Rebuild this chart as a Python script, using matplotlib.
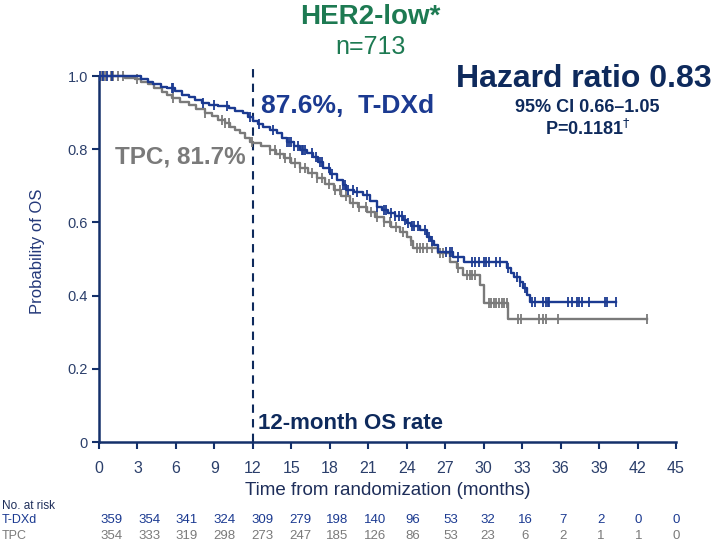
import matplotlib
matplotlib.use('Agg')
import matplotlib.pyplot as plt
import numpy as np

plt.rcParams.update({
    'font.family': ['Liberation Sans', 'DejaVu Sans'],
    'figure.facecolor': 'white',
    'axes.facecolor': 'white',
})

NAVY = '#0E2A5C'
BLUE = '#1B3A91'
GRAY = '#7A7A7A'
GREEN = '#1D7A52'
AXC = '#14306A'

# ── Data ─────────────────────────────────────────────────────────────────────
tdxd_t = [0, 3.3, 3.8, 4.2, 4.8, 5.3, 5.9, 6.5, 7.0, 7.5, 8.0, 8.6, 9.3, 10.1,
          10.6, 11.2, 11.6, 12.0, 12.4, 12.8, 13.3, 13.9, 14.3, 14.7, 15.2,
          15.7, 16.2, 16.7, 17.1, 17.5, 18.0, 18.6, 19.0, 19.3, 19.9, 20.6,
          21.1, 21.7, 22.1, 22.5, 23.1, 23.7, 24.0, 24.3, 25.0, 25.6, 25.9,
          26.1, 26.4, 27.6, 28.5, 31.8, 32.1, 32.4, 32.8, 33.1, 33.4, 33.6, 40.3]
tdxd_s = [1.0, 0.993, 0.985, 0.977, 0.971, 0.966, 0.958, 0.948, 0.942, 0.935,
          0.927, 0.922, 0.917, 0.912, 0.905, 0.898, 0.888, 0.876, 0.868, 0.861,
          0.853, 0.844, 0.832, 0.820, 0.808, 0.798, 0.789, 0.779, 0.764, 0.749,
          0.733, 0.716, 0.702, 0.689, 0.682, 0.675, 0.659, 0.642, 0.634, 0.626,
          0.617, 0.607, 0.598, 0.590, 0.579, 0.560, 0.548, 0.538, 0.519, 0.505,
          0.492, 0.475, 0.463, 0.451, 0.436, 0.421, 0.402, 0.383, 0.383]
tdxd_cens = [0.1, 0.3, 0.6, 1.0, 5.7, 5.8, 8.1, 9.0, 10.0, 11.8, 12.5, 13.6,
             14.7, 14.8, 15.0, 15.2, 15.5, 15.8, 15.9, 16.1, 16.6, 16.9, 17.2,
             17.4, 17.9, 18.2, 19.0, 19.2, 19.4, 19.8, 20.1, 20.9, 21.7, 22.2,
             22.4, 22.8, 23.1, 23.4, 23.6, 23.9, 24.1, 24.4, 24.6, 24.9, 25.4,
             25.7, 26.0, 27.1, 27.4, 27.5, 28.0, 29.1, 29.3, 29.6, 30.0, 30.2,
             30.4, 31.0, 31.3, 31.9, 32.6, 32.8, 33.2, 33.8, 34.0, 34.6, 34.9,
             35.0, 35.1, 36.6, 36.9, 37.3, 37.4, 37.7, 38.2, 39.5, 39.6, 40.3]

tpc_t = [0, 2.0, 2.8, 3.3, 3.8, 4.3, 4.9, 5.3, 5.7, 6.3, 7.0, 7.6, 8.3, 8.8,
         9.3, 9.8, 10.2, 10.6, 11.0, 11.4, 11.8, 12.0, 12.6, 13.3, 13.8, 14.4,
         15.0, 15.7, 16.3, 17.0, 17.6, 18.3, 18.9, 19.6, 20.2, 20.9, 21.5,
         22.2, 22.8, 23.5, 24.0, 24.3, 24.5, 26.4, 27.4, 27.9, 28.4, 29.7,
         30.0, 31.9, 42.7]
tpc_s = [1.0, 0.996, 0.991, 0.984, 0.977, 0.968, 0.957, 0.948, 0.940, 0.930,
         0.920, 0.910, 0.899, 0.890, 0.881, 0.872, 0.862, 0.853, 0.843, 0.832,
         0.820, 0.817, 0.808, 0.798, 0.787, 0.776, 0.763, 0.749, 0.735, 0.721,
         0.705, 0.689, 0.671, 0.653, 0.641, 0.628, 0.615, 0.601, 0.588, 0.574,
         0.560, 0.548, 0.530, 0.516, 0.492, 0.475, 0.456, 0.429, 0.380, 0.336,
         0.336]
tpc_cens = [0.2, 0.5, 0.9, 1.1, 1.5, 1.9, 3.0, 5.8, 8.3, 9.6, 9.8, 10.1, 11.9,
            13.3, 13.7, 14.1, 14.5, 14.9, 15.3, 15.7, 16.1, 16.6, 17.0, 17.4,
            17.9, 18.4, 18.8, 19.3, 19.8, 20.3, 20.8, 21.2, 21.7, 22.2, 22.7,
            23.2, 23.7, 24.3, 24.8, 25.0, 25.3, 25.6, 26.0, 26.6, 26.8, 28.0,
            28.7, 28.9, 29.1, 29.3, 30.4, 30.6, 30.8, 31.0, 31.2, 31.4, 31.6,
            31.8, 32.7, 32.9, 34.3, 34.6, 34.9, 35.8, 42.7]

months = [0, 3, 6, 9, 12, 15, 18, 21, 24, 27, 30, 33, 36, 39, 42, 45]
risk_tdxd = [359, 354, 341, 324, 309, 279, 198, 140, 96, 53, 32, 16, 7, 2, 0, 0]
risk_tpc = [354, 333, 319, 298, 273, 247, 185, 126, 86, 53, 23, 6, 2, 1, 1, 0]
yticks = [0, 0.2, 0.4, 0.6, 0.8, 1.0]
ytick_labels = ['0', '0.2', '0.4', '0.6', '0.8', '1.0']


def surv_at(times, surv, x):
    idx = np.searchsorted(times, x, side='right') - 1
    return np.asarray(surv)[idx]


# ── Figure ───────────────────────────────────────────────────────────────────
fig = plt.figure(figsize=(7.15, 5.45), dpi=100)
ax = fig.add_axes([99 / 715, 103 / 545, 577 / 715, 380.6 / 545])
ax.set_xlim(0, 45)
ax.set_ylim(0, 1.04)

ax.step(tpc_t, tpc_s, where='post', color=GRAY, lw=1.7, zorder=3)
ax.step(tdxd_t, tdxd_s, where='post', color=BLUE, lw=1.7, zorder=4)
ax.plot(tpc_cens, surv_at(tpc_t, tpc_s, tpc_cens), ls='none', marker='|',
        ms=7.5, mew=1.3, color=GRAY, zorder=3)
ax.plot(tdxd_cens, surv_at(tdxd_t, tdxd_s, tdxd_cens), ls='none', marker='|',
        ms=7.5, mew=1.3, color=BLUE, zorder=4)

ax.axvline(12, ymin=0, ymax=1.035 / 1.04, color=NAVY, lw=1.5,
           ls=(0, (4, 3)), zorder=2)

for side in ['top', 'right']:
    ax.spines[side].set_visible(False)
ax.spines['left'].set_bounds(0, 1)
ax.spines['bottom'].set_bounds(0, 45)
for side in ['left', 'bottom']:
    ax.spines[side].set_color(AXC)
    ax.spines[side].set_linewidth(1.8)

ax.set_xticks(months)
ax.set_xticklabels([str(m) for m in months])
ax.set_yticks(yticks)
ax.set_yticklabels(ytick_labels)
ax.tick_params(axis='both', colors=AXC, labelcolor='#2B3F6B', width=1.5,
               length=5)
ax.tick_params(axis='x', pad=9, labelsize=11.5)
ax.tick_params(axis='y', pad=3, labelsize=10.5)
ax.set_ylabel('Probability of OS', fontsize=12, color='#24397A', labelpad=16)
ax.set_xlabel('Time from randomization (months)', fontsize=13.5,
              color='#1E2E5A', labelpad=4)

# annotations
ax.text(12.6, 0.918, '87.6%,  T-DXd', fontsize=19, fontweight='bold',
        color=BLUE, ha='left', va='center')
ax.text(11.4, 0.779, 'TPC, 81.7%', fontsize=17.5, fontweight='bold',
        color=GRAY, ha='right', va='center')
ax.text(12.4, 0.05, '12-month OS rate', fontsize=16, fontweight='bold',
        color=NAVY, ha='left', va='center')

fig.text(370 / 715, 1 - 17 / 545, 'HER2-low*', fontsize=20, fontweight='bold',
         color=GREEN, ha='center', va='center')
fig.text(371 / 715, 1 - 47 / 545, 'n=713', fontsize=18, color=GREEN,
         ha='center', va='center')
fig.text(584 / 715, 1 - 79 / 545, 'Hazard ratio 0.83', fontsize=23,
         fontweight='bold', color=NAVY, ha='center', va='center')
fig.text(587 / 715, 1 - 108 / 545, '95% CI 0.66\u20131.05', fontsize=13,
         fontweight='bold', color=NAVY, ha='center', va='center')
fig.text(588 / 715, 1 - 129 / 545, 'P=0.1181$^{\u2020}$', fontsize=13,
         fontweight='bold', color=NAVY, ha='center', va='center')

# number at risk table
fig.text(2 / 715, 1 - 506 / 545, 'No. at risk', fontsize=8.5, color='#1E2E5A',
         ha='left', va='center')
fig.text(2 / 715, 1 - 520 / 545, 'T-DXd', fontsize=9, color=BLUE,
         ha='left', va='center')
fig.text(2 / 715, 1 - 536 / 545, 'TPC', fontsize=9, color=GRAY,
         ha='left', va='center')
trans = ax.get_xaxis_transform()
for m, a, b in zip(months, risk_tdxd, risk_tpc):
    xp = m + 1.0 - m / 45
    ax.text(xp, -(520 - 442) / 380.6, str(a), transform=trans, fontsize=9.5,
            color=BLUE, ha='center', va='center', clip_on=False)
    ax.text(xp, -(536 - 442) / 380.6, str(b), transform=trans, fontsize=9.5,
            color=GRAY, ha='center', va='center', clip_on=False)

fig.savefig('out.png', dpi=100, facecolor='white')
